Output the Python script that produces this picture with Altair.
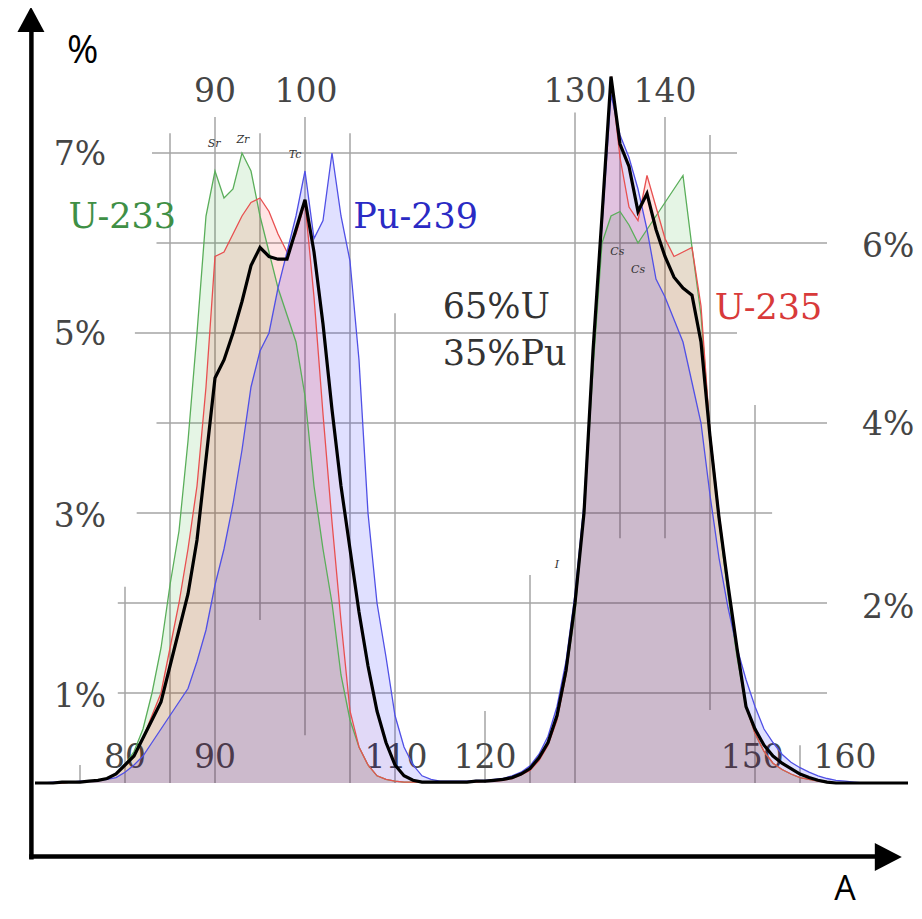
import altair as alt
import pandas as pd

# ---------------- data ----------------
A = list(range(70, 168))

u233 = [0, 0, 0, 0, 0.01, 0.01, 0.02, 0.03, 0.05, 0.1,
        0.2, 0.35, 0.6, 1.0, 1.5, 2.2, 2.8, 3.8, 5.0, 6.3,
        6.8, 6.5, 6.6, 7.0, 6.8, 6.3, 5.9, 5.5, 5.2, 4.9,
        4.3, 3.3, 2.6, 2.0, 1.2, 0.7, 0.4, 0.2, 0.08, 0.04,
        0.02, 0.01, 0.01, 0.01, 0.01, 0.01, 0.01, 0.01, 0.01, 0.02,
        0.02, 0.03, 0.04, 0.06, 0.1, 0.16, 0.27, 0.45, 0.72, 1.2,
        1.9, 3.0, 4.6, 6.0, 6.3, 6.35, 6.2, 6.0, 6.15, 6.3,
        6.45, 6.6, 6.75, 5.95, 5.2, 3.9, 2.9, 2.1, 1.4, 0.85,
        0.55, 0.35, 0.22, 0.15, 0.1, 0.06, 0.04, 0.02, 0.01, 0,
        0, 0, 0, 0, 0, 0, 0, 0]

u235 = [0, 0, 0, 0, 0.01, 0.01, 0.02, 0.03, 0.05, 0.1,
        0.2, 0.3, 0.5, 0.75, 1.0, 1.5, 2.0, 2.6, 3.3, 4.4,
        5.85, 5.9, 6.1, 6.3, 6.45, 6.5, 6.35, 6.1, 5.9, 6.1,
        6.45, 5.4, 4.1, 2.9, 1.8, 0.8, 0.4, 0.2, 0.08, 0.04,
        0.02, 0.01, 0.01, 0.01, 0.01, 0.01, 0.01, 0.01, 0.01, 0.01,
        0.02, 0.02, 0.03, 0.05, 0.09, 0.14, 0.25, 0.42, 0.7, 1.2,
        1.95, 3.0, 4.8, 6.3, 7.85, 6.95, 6.4, 6.25, 6.75, 6.4,
        6.05, 5.85, 5.9, 5.95, 5.3, 3.9, 3.0, 2.2, 1.45, 0.85,
        0.55, 0.35, 0.22, 0.15, 0.1, 0.06, 0.04, 0.02, 0.01, 0,
        0, 0, 0, 0, 0, 0, 0, 0]

pu239 = [0, 0, 0.01, 0.01, 0.01, 0.02, 0.02, 0.03, 0.04, 0.06,
         0.12, 0.2, 0.3, 0.45, 0.6, 0.75, 0.9, 1.05, 1.35, 1.7,
         2.2, 2.6, 3.1, 3.7, 4.4, 4.8, 5.0, 5.5, 5.9, 6.3,
         6.8, 6.05, 6.25, 7.0, 6.3, 5.8, 4.7, 3.0, 2.0, 1.4,
         0.75, 0.4, 0.2, 0.08, 0.04, 0.02, 0.02, 0.02, 0.02, 0.03,
         0.03, 0.04, 0.05, 0.08, 0.12, 0.19, 0.32, 0.52, 0.85, 1.35,
         2.1, 3.1, 4.8, 6.2, 7.65, 7.2, 6.95, 6.6, 6.15, 5.6,
         5.4, 5.15, 4.9, 4.45, 4.0, 3.2, 2.5, 1.95, 1.5, 1.15,
         0.85, 0.6, 0.45, 0.32, 0.23, 0.17, 0.12, 0.08, 0.05, 0.03,
         0.02, 0.01, 0, 0, 0, 0, 0, 0]

mix = [0, 0, 0, 0.01, 0.01, 0.01, 0.02, 0.03, 0.05, 0.1,
       0.2, 0.3, 0.5, 0.7, 0.9, 1.3, 1.7, 2.1, 2.7, 3.6,
       4.5, 4.7, 5.0, 5.35, 5.75, 5.95, 5.85, 5.82, 5.82, 6.15,
       6.48, 5.9, 5.1, 4.15, 3.3, 2.6, 1.9, 1.3, 0.8, 0.45,
       0.2, 0.08, 0.03, 0.01, 0.01, 0.01, 0.01, 0.01, 0.01, 0.02,
       0.02, 0.03, 0.04, 0.06, 0.1, 0.16, 0.28, 0.45, 0.75, 1.25,
       2.0, 3.0, 4.8, 6.3, 7.85, 7.1, 6.85, 6.35, 6.55, 6.15,
       5.85, 5.62, 5.5, 5.42, 4.9, 3.85, 2.95, 2.2, 1.5, 0.85,
       0.6, 0.42, 0.3, 0.22, 0.16, 0.1, 0.06, 0.03, 0.01, 0,
       0, 0, 0, 0, 0, 0, 0, 0]

series_names = ["U-233", "U-235", "Pu-239", "65%U 35%Pu"]

# grid segments
hgrid_p = [7, 6, 5, 4, 3, 2, 1]
hgrid_a1 = [83, 83.5, 81.1, 83.5, 81.3, 79.2, 79.2]
hgrid_a2 = [148, 158, 148, 158, 151.9, 158, 158]

vgrid_a = [75, 80, 85, 90, 95, 100, 105, 110, 120, 125, 130, 135, 140, 145, 150, 155]
vgrid_top = [0.2, 2.18, 7.22, 7.4, 7.22, 7.4, 7.22, 5.22, 0.8, 2.31, 7.45, 7.07, 7.4, 7.2, 4.2, 0.42]
vgrid_bot = [0, 0, 0, 0, 1.81, 0.53, 0, 0, 0, 0, 0, 2.72, 2.72, 0.81, 0, 0]

# tick labels
tick_text = ["7%", "5%", "3%", "1%", "6%", "4%", "2%",
             "90", "100", "130", "140",
             "80", "90", "110", "120", "150", "160"]
tick_a = [75, 75, 75, 75, 164.8, 164.8, 164.8,
          90, 100.1, 130, 140,
          80, 90, 110.1, 120, 149.7, 160]
tick_p = [6.98, 4.98, 2.96, 0.96, 5.96, 3.98, 1.94,
          7.68, 7.68, 7.68, 7.68,
          0.28, 0.28, 0.28, 0.28, 0.28, 0.28]

# series labels
lab_text = ["U-233", "Pu-239", "U-235"]
lab_a = [79.7, 112.3, 151.5]
lab_p = [6.29, 6.29, 5.28]
lab_col = ["#3f8f45", "#2a2ac4", "#d83a3a"]

mix_text = ["65%U", "35%Pu"]
mix_a = [115.3, 115.3]
mix_p = [5.29, 4.77]

elem_text = ["Sr", "Zr", "Tc", "Cs", "Cs", "I"]
elem_a = [89.9, 93.1, 98.9, 134.7, 137.0, 128.0]
elem_p = [7.1, 7.14, 6.98, 5.9, 5.7, 2.42]

# ---------------- frames ----------------
rows = []
for name, vals in zip(series_names, [u233, u235, pu239, mix]):
    for a, v in zip(A, vals):
        rows.append({"A": a, "p": v, "series": name})
df = pd.DataFrame(rows)

hgrid = pd.DataFrame({"p": hgrid_p, "a1": hgrid_a1, "a2": hgrid_a2})
vgrid = pd.DataFrame({"A": vgrid_a, "t": vgrid_top, "b": vgrid_bot})
ticks = pd.DataFrame({"label": tick_text, "A": tick_a, "p": tick_p})
labs = pd.DataFrame({"label": lab_text, "A": lab_a, "p": lab_p, "col": lab_col})
mixlab = pd.DataFrame({"label": mix_text, "A": mix_a, "p": mix_p})
elems = pd.DataFrame({"label": elem_text, "A": elem_a, "p": elem_p})

W, H = 906, 903
xs = alt.Scale(domain=[67, 67 + W / 9], nice=False, zero=False)
ys = alt.Scale(domain=[(775 - H) / 90, 775 / 90], nice=False, zero=False)

def X(f):
    return alt.X(f, type="quantitative", scale=xs, axis=None)

def Y(f):
    return alt.Y(f, type="quantitative", scale=ys, axis=None)

grid_col = "#a4a4a4"
vg = alt.Chart(vgrid).mark_rule(color=grid_col, strokeWidth=1.5).encode(
    x=X("A"), y=Y("t"), y2="b")
hg = alt.Chart(hgrid).mark_rule(color=grid_col, strokeWidth=1.5).encode(
    x=X("a1"), x2="a2", y=Y("p"))

tick_layer = alt.Chart(ticks).mark_text(
    font="DejaVu Serif", fontSize=33, color="#454545", baseline="middle", align="center"
).encode(x=X("A"), y=Y("p"), text="label:N")

fills = {"U-233": ("#00a000", 0.10), "U-235": ("#ff0000", 0.10),
         "Pu-239": ("#0000ff", 0.12), "65%U 35%Pu": ("#ff0000", 0.03)}
strokes = {"U-233": ("#5aae5a", 1.3), "U-235": ("#e85050", 1.3),
           "Pu-239": ("#5050e6", 1.3), "65%U 35%Pu": ("#000000", 3.2)}

areas = []
lines = []
for name in series_names:
    base = alt.Chart(df).transform_filter(alt.datum.series == name)
    c, o = fills[name]
    areas.append(base.mark_area(color=c, fillOpacity=o, interpolate="linear").encode(
        x=X("A"), y=Y("p")))
    sc, sw = strokes[name]
    lines.append(base.mark_line(color=sc, strokeWidth=sw, interpolate="linear").encode(
        x=X("A"), y=Y("p")))

lab_layer = alt.Chart(labs).mark_text(
    font="DejaVu Serif", fontSize=35, baseline="middle", align="center"
).encode(x=X("A"), y=Y("p"), text="label:N", color=alt.Color("col:N", scale=None))

mix_layer = alt.Chart(mixlab).mark_text(
    font="DejaVu Serif", fontSize=35, baseline="middle", align="left", color="#333333"
).encode(x=X("A"), y=Y("p"), text="label:N")

elem_layer = alt.Chart(elems).mark_text(
    font="DejaVu Serif", fontSize=11, fontStyle="italic", baseline="middle",
    align="center", color="#333333"
).encode(x=X("A"), y=Y("p"), text="label:N")

# arrows framing the plot
arr_v = alt.Chart(pd.DataFrame({"A": [69.6], "p1": [-0.85], "p2": [8.35]})).mark_rule(
    color="black", strokeWidth=4.5, strokeCap="butt").encode(x=X("A"), y=Y("p1"), y2="p2")
arr_h = alt.Chart(pd.DataFrame({"a1": [69.35], "a2": [163.4], "p": [-0.817]})).mark_rule(
    color="black", strokeWidth=4.5, strokeCap="butt").encode(x=X("a1"), x2="a2", y=Y("p"))
head_v = alt.Chart(pd.DataFrame({"A": [69.55], "p": [8.484]})).mark_point(
    shape="M0,-0.93L1,0.93L-1,0.93Z", filled=True, size=729, color="black", opacity=1,
    strokeWidth=0).encode(x=X("A"), y=Y("p"))
head_h = alt.Chart(pd.DataFrame({"A": [164.81], "p": [-0.822]})).mark_point(
    shape="M1,0L-1,1.04L-1,-1.04Z", filled=True, size=729, color="black", opacity=1,
    strokeWidth=0).encode(x=X("A"), y=Y("p"))

pct_lab = alt.Chart(pd.DataFrame({"label": ["%"], "A": [75.3], "p": [8.12]})).mark_text(
    font="Open Sans", fontSize=38, color="black", baseline="middle", align="center"
).encode(x=X("A"), y=Y("p"), text="label:N")
a_lab = alt.Chart(pd.DataFrame({"label": ["A"], "A": [160.0], "p": [-1.3]})).mark_text(
    font="Open Sans", fontSize=34, color="black", baseline="alphabetic", align="center"
).encode(x=X("A"), y=Y("p"), text="label:N")

chart = alt.layer(
    vg, hg, tick_layer, *areas, *lines, lab_layer, mix_layer, elem_layer,
    arr_v, arr_h, head_v, head_h, pct_lab, a_lab
).properties(
    width=W, height=H, padding=0, background="white",
    autosize=alt.AutoSizeParams(type="none")
).configure_view(stroke=None)

chart.save("out.html", embed_options={"renderer": "svg", "actions": False})
